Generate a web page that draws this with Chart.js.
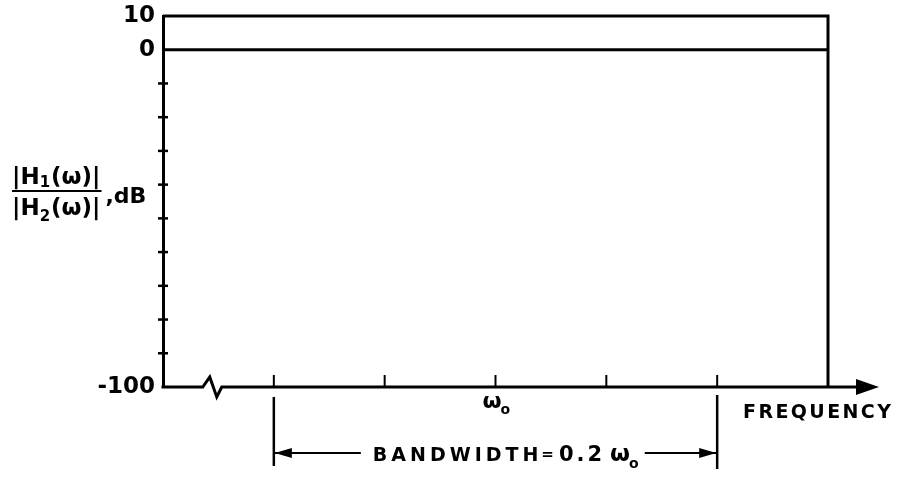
<!DOCTYPE html>
<html>
<head>
<meta charset="utf-8">
<script src="https://cdn.jsdelivr.net/npm/chart.js@4.4.0/dist/chart.umd.min.js"></script>
<style>
  html, body { margin: 0; padding: 0; background: #fff; }
</style>
</head>
<body>
<canvas id="grafico" width="903" height="477"></canvas>
<script>
// frequência em unidades de w0, razão |H1|/|H2| em dB
const frequencias = [0.85, 1.15];
const razaoDb = [0, 0];
const ticksFreq = [0.9, 0.95, 1.0, 1.05, 1.1, 1.15];
const ticksDb = [10, 0, -10, -20, -30, -40, -50, -60, -70, -80, -90, -100];
const rotulosDb = ['10', '0', '-100'];
const banda = [0.9, 1.1];      // largura de banda = 0.2 w0
const centro = 1.0;            // w0
const quebra = 0.872;          // posição do símbolo de quebra no eixo

const FONTE = '"DejaVu Sans", sans-serif';

// desenha texto com espaçamento entre letras, devolve x final
function textoEspacado(ctx, txt, x, y, esp) {
    let cx = x;
    for (const ch of txt) {
        ctx.fillText(ch, cx, y);
        cx += ctx.measureText(ch).width + esp;
    }
    return cx - esp;
}

// |H?(ω)| com índice
function desenhaH(ctx, x, y, indice, dyIndice) {
    ctx.font = 'bold 23px ' + FONTE;
    ctx.textAlign = 'left';
    let cx = x;
    ctx.fillText('|H', cx, y);
    cx += ctx.measureText('|H').width;
    ctx.font = 'bold 15px ' + FONTE;
    ctx.fillText(indice, cx, y + dyIndice);
    cx += ctx.measureText(indice).width + 1;
    ctx.font = 'bold 23px ' + FONTE;
    ctx.fillText('(ω)|', cx, y);
    cx += ctx.measureText('(ω)|').width;
    return cx;
}

const decoracoes = {
    id: 'decoracoes',
    afterDraw(chart) {
        const { ctx, chartArea: a, scales: { x, y } } = chart;
        ctx.save();
        ctx.strokeStyle = '#000';
        ctx.fillStyle = '#000';
        ctx.lineCap = 'butt';
        ctx.textBaseline = 'alphabetic';

        // moldura superior e direita
        ctx.lineWidth = 3;
        ctx.beginPath();
        ctx.moveTo(a.left, a.top);
        ctx.lineTo(a.right, a.top);
        ctx.lineTo(a.right, a.bottom);
        ctx.stroke();

        // eixo das frequências com quebra e seta
        const xq = x.getPixelForValue(quebra);
        ctx.beginPath();
        ctx.moveTo(a.left - 1.5, a.bottom);
        ctx.lineTo(xq - 9, a.bottom);
        ctx.lineTo(xq - 2, a.bottom - 10);
        ctx.lineTo(xq + 5, a.bottom + 10);
        ctx.lineTo(xq + 10, a.bottom);
        ctx.lineTo(a.right + 30, a.bottom);
        ctx.stroke();
        ctx.beginPath();
        ctx.moveTo(a.right + 28, a.bottom - 8);
        ctx.lineTo(a.right + 51, a.bottom);
        ctx.lineTo(a.right + 28, a.bottom + 8);
        ctx.closePath();
        ctx.fill();

        // marcas do eixo y (cruzando o eixo)
        ctx.lineWidth = 2.5;
        ticksDb.forEach(v => {
            if (v >= 0 || v <= -100) return;
            const py = y.getPixelForValue(v);
            ctx.beginPath();
            ctx.moveTo(a.left - 5, py);
            ctx.lineTo(a.left + 5, py);
            ctx.stroke();
        });

        // marcas do eixo x (para dentro)
        ctx.lineWidth = 2;
        ticksFreq.forEach(v => {
            const px = x.getPixelForValue(v);
            ctx.beginPath();
            ctx.moveTo(px, a.bottom);
            ctx.lineTo(px, a.bottom - 12);
            ctx.stroke();
        });

        // rótulo w0
        const xc = x.getPixelForValue(centro);
        ctx.textAlign = 'left';
        ctx.font = 'bold 22px ' + FONTE;
        ctx.fillText('ω', xc - 13, a.bottom + 21);
        ctx.font = 'bold 14px ' + FONTE;
        ctx.fillText('o', xc + 5, a.bottom + 27);

        // FREQUENCY
        ctx.font = 'bold 19px ' + FONTE;
        textoEspacado(ctx, 'FREQUENCY', a.right - 85, a.bottom + 31, 2.4);

        // largura de banda
        const x0 = x.getPixelForValue(banda[0]);
        const x1 = x.getPixelForValue(banda[1]);
        const yb = a.bottom + 66;
        ctx.lineWidth = 2.5;
        ctx.beginPath();
        ctx.moveTo(x0, a.bottom + 10); ctx.lineTo(x0, a.bottom + 79);
        ctx.moveTo(x1, a.bottom + 8); ctx.lineTo(x1, a.bottom + 82);
        ctx.stroke();

        ctx.font = 'bold 19px ' + FONTE;
        const xTxt = x0 + 99;
        let fim = textoEspacado(ctx, 'BANDWIDTH', xTxt, yb + 8, 4);
        ctx.font = 'bold 15px ' + FONTE;
        ctx.fillText('=', fim + 3, yb + 6);
        fim += 3 + ctx.measureText('=').width + 5;
        ctx.font = 'bold 21px ' + FONTE;
        fim = textoEspacado(ctx, '0.2', fim, yb + 8, 3);
        ctx.font = 'bold 23px ' + FONTE;
        ctx.fillText('ω', fim + 8, yb + 8);
        fim += 8 + ctx.measureText('ω').width;
        ctx.font = 'bold 14px ' + FONTE;
        ctx.fillText('o', fim - 1, yb + 15);
        fim += ctx.measureText('o').width;

        ctx.lineWidth = 2;
        ctx.beginPath();
        ctx.moveTo(x0, yb); ctx.lineTo(xTxt - 12, yb);
        ctx.moveTo(fim + 5, yb); ctx.lineTo(x1, yb);
        ctx.stroke();
        ctx.beginPath();
        ctx.moveTo(x0 + 1, yb); ctx.lineTo(x0 + 18, yb - 5); ctx.lineTo(x0 + 18, yb + 5); ctx.closePath();
        ctx.moveTo(x1 - 1, yb); ctx.lineTo(x1 - 18, yb - 5); ctx.lineTo(x1 - 18, yb + 5); ctx.closePath();
        ctx.fill();

        // título do eixo y: fração |H1(w)| / |H2(w)|, dB
        const xl = 12;
        const fimNum = desenhaH(ctx, xl, 184, '1', 3);
        const fimDen = desenhaH(ctx, xl, 215, '2', 6);
        const fimFr = Math.max(fimNum, fimDen);
        ctx.lineWidth = 2;
        ctx.beginPath();
        ctx.moveTo(xl, 191);
        ctx.lineTo(fimFr + 1, 191);
        ctx.stroke();
        ctx.font = 'bold 22px ' + FONTE;
        ctx.fillText(',dB', fimFr + 5, 203);

        ctx.restore();
    }
};

new Chart(document.getElementById('grafico'), {
    type: 'line',
    data: {
        datasets: [{
            data: frequencias.map((f, i) => ({ x: f, y: razaoDb[i] })),
            borderColor: '#000',
            borderWidth: 3,
            pointRadius: 0,
            fill: false,
            tension: 0
        }]
    },
    options: {
        responsive: false,
        animation: false,
        devicePixelRatio: 1,
        layout: { padding: { top: 16, right: 75, left: 0, bottom: 0 } },
        plugins: { legend: { display: false }, tooltip: { enabled: false } },
        scales: {
            x: {
                type: 'linear',
                min: frequencias[0],
                max: frequencias[frequencias.length - 1],
                afterBuildTicks: s => { s.ticks = ticksFreq.map(v => ({ value: v })); },
                afterFit: s => { s.height = 90; s.paddingLeft = 0; s.paddingRight = 0; },
                ticks: { display: false },
                grid: { display: false, drawTicks: false },
                border: { display: false }
            },
            y: {
                min: -100,
                max: 10,
                afterBuildTicks: s => { s.ticks = ticksDb.map(v => ({ value: v })); },
                afterFit: s => { s.width = 163; s.paddingTop = 0; s.paddingBottom = 0; },
                ticks: {
                    autoSkip: false,
                    padding: 8,
                    color: '#000',
                    font: { family: FONTE, size: 23, weight: 'bold' },
                    callback: v => rotulosDb.includes(String(v)) ? String(v) : ''
                },
                grid: { display: false, drawTicks: false },
                border: { display: true, color: '#000', width: 3 }
            }
        }
    },
    plugins: [decoracoes]
});
</script>
</body>
</html>
